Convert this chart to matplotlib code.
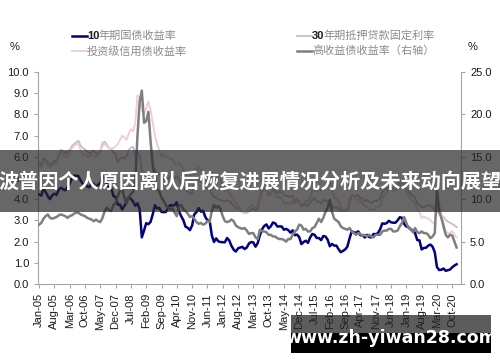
import matplotlib
matplotlib.use("Agg")
import matplotlib.pyplot as plt
import numpy as np
import pandas as pd
from matplotlib.lines import Line2D
from matplotlib.patches import Rectangle

plt.rcParams['font.family'] = ['Liberation Sans', 'Noto Sans CJK SC', 'DejaVu Sans']

# monthly values, Jan-2005 .. Dec-2020
dates = pd.date_range('2005-01-01', periods=192, freq='MS')

ust10 = [
    4.22, 4.17, 4.50, 4.34, 4.14, 4.00, 4.18, 4.26, 4.20, 4.46, 4.54, 4.47,
    4.42, 4.57, 4.72, 4.99, 5.11, 5.11, 5.09, 4.88, 4.72, 4.73, 4.60, 4.56,
    4.76, 4.72, 4.56, 4.69, 4.75, 5.10, 5.00, 4.67, 4.52, 4.53, 4.15, 4.10,
    3.74, 3.74, 3.51, 3.68, 3.88, 4.10, 4.01, 3.89, 3.69, 3.81, 3.53, 2.20,
    2.52, 2.87, 2.82, 2.93, 3.29, 3.72, 3.56, 3.59, 3.40, 3.39, 3.40, 3.59,
    3.73, 3.69, 3.73, 3.85, 3.42, 3.20, 3.01, 2.70, 2.65, 2.54, 2.76, 3.29,
    3.39, 3.58, 3.41, 3.46, 3.17, 3.00, 3.00, 2.30, 1.98, 2.15, 2.01, 1.98,
    1.97, 1.97, 2.17, 2.05, 1.80, 1.62, 1.53, 1.68, 1.72, 1.75, 1.65, 1.72,
    1.91, 1.98, 1.96, 1.76, 1.93, 2.30, 2.58, 2.74, 2.81, 2.62, 2.72, 2.90,
    2.86, 2.71, 2.72, 2.71, 2.56, 2.60, 2.54, 2.42, 2.53, 2.30, 2.33, 2.21,
    1.88, 1.98, 2.04, 1.94, 2.20, 2.36, 2.32, 2.17, 2.17, 2.07, 2.26, 2.24,
    2.09, 1.78, 1.89, 1.81, 1.81, 1.64, 1.50, 1.56, 1.63, 1.76, 2.14, 2.49,
    2.43, 2.42, 2.48, 2.30, 2.30, 2.19, 2.32, 2.21, 2.20, 2.36, 2.35, 2.40,
    2.58, 2.86, 2.84, 2.87, 2.98, 2.91, 2.89, 2.89, 3.00, 3.15, 3.12, 2.83,
    2.71, 2.68, 2.57, 2.53, 2.40, 2.07, 2.06, 1.63, 1.70, 1.71, 1.81, 1.86,
    1.76, 1.50, 0.80, 0.66, 0.67, 0.73, 0.62, 0.65, 0.68, 0.79, 0.87, 0.93,
]

mortgage30 = [
    5.71, 5.63, 5.93, 5.86, 5.72, 5.58, 5.70, 5.82, 5.77, 6.07, 6.33, 6.27,
    6.15, 6.25, 6.32, 6.51, 6.60, 6.68, 6.76, 6.52, 6.40, 6.36, 6.24, 6.14,
    6.22, 6.29, 6.16, 6.18, 6.26, 6.66, 6.70, 6.57, 6.38, 6.38, 6.21, 6.10,
    5.76, 5.92, 5.97, 5.92, 6.04, 6.32, 6.43, 6.48, 6.04, 6.20, 6.09, 5.33,
    5.06, 5.13, 5.00, 4.81, 4.86, 5.42, 5.22, 5.19, 5.06, 4.95, 4.88, 4.93,
    5.03, 4.99, 4.97, 5.10, 4.89, 4.74, 4.56, 4.43, 4.35, 4.23, 4.30, 4.71,
    4.76, 4.95, 4.84, 4.84, 4.64, 4.51, 4.55, 4.27, 4.11, 4.07, 3.99, 3.96,
    3.92, 3.89, 3.95, 3.91, 3.80, 3.68, 3.55, 3.60, 3.50, 3.38, 3.35, 3.35,
    3.41, 3.53, 3.57, 3.45, 3.54, 4.07, 4.37, 4.46, 4.49, 4.19, 4.26, 4.46,
    4.43, 4.30, 4.34, 4.34, 4.19, 4.16, 4.13, 4.12, 4.16, 3.92, 4.00, 3.86,
    3.67, 3.71, 3.77, 3.67, 3.84, 3.98, 4.05, 3.91, 3.89, 3.80, 3.94, 3.96,
    3.87, 3.66, 3.69, 3.61, 3.60, 3.57, 3.44, 3.44, 3.46, 3.47, 3.77, 4.20,
    4.15, 4.17, 4.20, 4.05, 4.01, 3.90, 3.97, 3.88, 3.81, 3.90, 3.92, 3.95,
    4.03, 4.33, 4.44, 4.47, 4.59, 4.57, 4.53, 4.55, 4.63, 4.83, 4.87, 4.64,
    4.46, 4.37, 4.27, 4.14, 4.07, 3.80, 3.77, 3.62, 3.61, 3.69, 3.70, 3.72,
    3.62, 3.47, 3.45, 3.31, 3.23, 3.16, 3.02, 2.94, 2.89, 2.83, 2.77, 2.68,
]

ig_credit = [
    5.6, 5.5, 5.8, 5.8, 5.6, 5.5, 5.6, 5.7, 5.7, 6.0, 6.2, 6.1,
    6.0, 6.0, 6.2, 6.4, 6.5, 6.6, 6.6, 6.3, 6.1, 6.1, 6.0, 6.0,
    6.1, 6.0, 6.0, 6.1, 6.2, 6.5, 6.6, 6.5, 6.4, 6.4, 6.4, 6.5,
    6.6, 6.8, 7.0, 6.9, 6.8, 7.1, 7.3, 7.2, 7.6, 8.9, 8.8, 8.2,
    8.0, 8.3, 8.6, 8.2, 7.6, 7.0, 6.6, 6.3, 6.0, 6.1, 6.0, 6.0,
    5.9, 5.9, 5.7, 5.6, 5.7, 5.6, 5.4, 5.1, 5.0, 5.0, 5.2, 5.4,
    5.4, 5.5, 5.4, 5.3, 5.1, 5.1, 5.0, 4.8, 4.8, 4.9, 5.0, 4.9,
    4.6, 4.4, 4.4, 4.3, 4.1, 4.0, 3.8, 3.7, 3.5, 3.4, 3.4, 3.5,
    3.6, 3.7, 3.7, 3.5, 3.7, 4.2, 4.4, 4.5, 4.5, 4.3, 4.3, 4.4,
    4.3, 4.1, 4.1, 4.0, 3.8, 3.8, 3.8, 3.8, 3.9, 3.8, 3.9, 3.9,
    3.7, 3.8, 3.9, 3.9, 4.1, 4.4, 4.4, 4.4, 4.5, 4.4, 4.5, 4.6,
    4.7, 4.8, 4.4, 4.1, 4.0, 3.9, 3.6, 3.5, 3.5, 3.6, 4.0, 4.2,
    4.1, 4.0, 4.0, 3.9, 3.8, 3.7, 3.6, 3.5, 3.5, 3.5, 3.6, 3.6,
    3.7, 4.0, 4.2, 4.3, 4.5, 4.5, 4.4, 4.4, 4.5, 4.6, 4.8, 4.7,
    4.4, 4.2, 4.0, 3.9, 3.8, 3.5, 3.4, 3.1, 3.2, 3.1, 3.1, 3.0,
    2.9, 2.8, 4.5, 3.8, 3.4, 2.9, 2.5, 2.4, 2.4, 2.5, 2.3, 2.2,
]

high_yield = [
    7.0, 7.2, 7.7, 8.0, 8.2, 7.8, 7.7, 7.8, 7.9, 8.1, 8.2, 8.1,
    8.0, 7.8, 8.0, 8.1, 8.3, 8.4, 8.4, 8.2, 8.1, 8.0, 7.8, 7.7,
    7.6, 7.4, 7.6, 7.4, 7.3, 7.8, 8.6, 9.0, 8.7, 8.6, 9.3, 9.6,
    10.3, 11.0, 11.3, 10.2, 9.5, 10.2, 10.6, 10.9, 12.2, 17.5, 21.5, 22.8,
    19.0, 19.2, 20.3, 16.8, 14.0, 12.5, 11.2, 10.9, 10.2, 9.8, 9.3, 9.0,
    8.8, 8.9, 8.4, 8.0, 9.2, 9.3, 8.8, 8.6, 8.3, 7.9, 8.0, 7.7,
    7.3, 7.1, 7.2, 7.0, 7.1, 7.4, 7.3, 8.6, 9.3, 9.0, 9.2, 8.8,
    8.0, 7.4, 7.3, 7.4, 7.6, 7.4, 6.9, 6.7, 6.6, 6.5, 6.6, 6.3,
    5.9, 6.0, 6.0, 5.5, 5.3, 6.4, 6.2, 6.2, 6.1, 5.8, 5.8, 5.6,
    5.6, 5.4, 5.3, 5.3, 5.2, 5.0, 5.3, 5.3, 5.8, 6.2, 6.4, 7.0,
    6.9, 6.4, 6.5, 6.2, 6.2, 6.6, 6.7, 7.2, 7.7, 7.3, 7.8, 8.5,
    9.0, 9.9, 8.5, 7.7, 7.5, 7.3, 6.8, 6.6, 6.5, 6.4, 6.6, 6.2,
    6.0, 5.8, 6.0, 5.9, 5.7, 5.8, 5.6, 5.8, 5.6, 5.5, 5.8, 5.8,
    5.8, 6.2, 6.3, 6.3, 6.5, 6.5, 6.2, 6.2, 6.3, 6.8, 7.2, 7.9,
    7.2, 6.6, 6.5, 6.1, 6.6, 6.1, 6.0, 6.2, 6.0, 6.0, 5.8, 5.4,
    5.6, 6.0, 11.0, 8.6, 7.8, 6.8, 5.8, 5.5, 5.8, 5.7, 5.0, 4.3,
]

x = np.arange(len(dates))
tick_pos = x[::7][:28]
tick_labels = [d.strftime('%b-%y') for d in dates[tick_pos]]

fig = plt.figure(figsize=(5, 3.62), dpi=100)
ax = fig.add_axes([0.076, 0.2155, 0.846, 0.5856])
ax2 = ax.twinx()

ax.plot(x, mortgage30, color='#c3bbdb', lw=1.3, zorder=2)
ax.plot(x, ig_credit, color='#f2cccc', lw=1.3, zorder=2)
ax.plot(x, ust10, color='#000080', lw=1.8, zorder=3)
ax2.plot(x, high_yield, color='#7f7f7f', lw=1.8)

ax.set_xlim(-0.5, 193)
ax.set_ylim(0, 10)
ax2.set_ylim(0, 25)
ax.set_yticks(np.arange(0, 10.1, 1))
ax.set_yticklabels([f'{v:.1f}' for v in np.arange(0, 10.1, 1)])
ax2.set_yticks(np.arange(0, 25.1, 5))
ax2.set_yticklabels([f'{v:.1f}' for v in np.arange(0, 25.1, 5)])
ax.set_xticks(tick_pos)
ax.set_xticklabels(tick_labels, rotation=90)

for a in (ax, ax2):
    a.spines['top'].set_visible(False)
    for s in ('left', 'right', 'bottom'):
        a.spines[s].set_color('#a6a6a6')
    a.tick_params(labelsize=8, colors='#a6a6a6', labelcolor='#1a1a1a', length=3, width=0.8)
ax.spines['right'].set_visible(False)
ax2.spines['left'].set_visible(False)
ax2.spines['bottom'].set_visible(False)

fig.text(15 / 500, 1 - 47 / 362, '%', fontsize=8, ha='center', va='center', color='#1a1a1a')
fig.text(473 / 500, 1 - 47 / 362, '%', fontsize=8, ha='center', va='center', color='#1a1a1a')

# legend drawn by hand, two columns
legend_items = [
    (72, 36, '#000080', 1.8, '10', '年期国债收益率'),
    (72, 51, '#f2cccc', 1.3, '', '投资级信用债收益率'),
    (297, 36, '#c3bbdb', 1.3, '30', '年期抵押贷款固定利率'),
    (297, 51, '#7f7f7f', 1.8, '', '高收益债收益率（右轴）'),
]
for lx, ly, col, lw, num, label in legend_items:
    yy = 1 - ly / 362
    fig.add_artist(Line2D([lx / 500, (lx + 15) / 500], [yy, yy], color=col, lw=lw))
    tx = (lx + 15) / 500
    if num:
        fig.text(tx, yy, num, fontsize=8, fontweight='bold', color='#1a1a1a', va='center')
        tx += 11 / 500
    fig.text(tx, yy, label, fontsize=8, color='#8c8c8c', va='center',
             family=['Noto Sans CJK SC', 'DejaVu Sans'])

# overlay banner across the middle
fig.add_artist(Rectangle((0, 1 - 212 / 362), 1, 62 / 362, transform=fig.transFigure,
                         facecolor='#262626', alpha=0.7, edgecolor='none', zorder=10))
fig.text(0.5, 1 - 181 / 362, '波普因个人原因离队后恢复进展情况分析及未来动向展望',
         fontsize=14.5, fontweight='bold', color='white', ha='center', va='center',
         family=['Noto Sans CJK SC', 'DejaVu Sans'], zorder=11)

# watermark box at the bottom
fig.add_artist(Rectangle((291 / 500, 1 - 333 / 362), 200 / 500, 18 / 362, transform=fig.transFigure,
                         facecolor='#262626', alpha=0.75, edgecolor='none', zorder=10))
fig.add_artist(Rectangle((291 / 500, 1 - 353 / 362), 200 / 500, 20 / 362, transform=fig.transFigure,
                         facecolor='black', edgecolor='none', zorder=10))
fig.text(391 / 500, 1 - 338 / 362, 'www.zh-yiwan28.com', fontsize=12.5, fontweight='bold',
         color='white', ha='center', va='center', family='DejaVu Sans', zorder=11)

fig.savefig('out.png', dpi=100)
